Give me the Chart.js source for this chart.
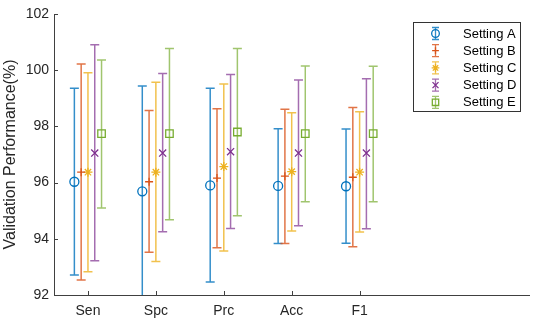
<!DOCTYPE html>
<html>
<head>
<meta charset="utf-8">
<script src="https://cdn.jsdelivr.net/npm/chart.js"></script>
<style>
  body { margin: 0; background: #fff; }
  #wrap { width: 536px; height: 322px; }
</style>
</head>
<body>
<div id="wrap"><canvas id="ErrorBarChart" width="536" height="322"></canvas></div>
<script>
// metrics on the x axis
const categories = ['Sen', 'Spc', 'Prc', 'Acc', 'F1'];
const settingNames = ['Setting A', 'Setting B', 'Setting C', 'Setting D', 'Setting E'];
const yTicks = [92, 94, 96, 98, 100, 102];

// mean values and error bar ends
const meanA = [96.03, 95.69, 95.90, 95.88, 95.87];
const lowA  = [92.71, 91.94, 92.46, 93.83, 93.84];
const highA = [99.36, 99.44, 99.36, 97.92, 97.91];

const meanB = [96.37, 96.03, 96.16, 96.23, 96.19];
const lowB  = [92.53, 93.52, 93.68, 93.83, 93.72];
const highB = [100.22, 98.57, 98.63, 98.61, 98.67];

const meanC = [96.37, 96.37, 96.57, 96.39, 96.37];
const lowC  = [92.83, 93.19, 93.57, 94.28, 94.24];
const highC = [99.91, 99.57, 99.51, 98.49, 98.52];

const meanD = [97.05, 97.05, 97.10, 97.05, 97.05];
const lowD  = [93.22, 94.25, 94.37, 94.46, 94.36];
const highD = [100.91, 99.88, 99.85, 99.65, 99.70];

const meanE = [97.74, 97.74, 97.80, 97.74, 97.74];
const lowE  = [95.10, 94.68, 94.82, 95.32, 95.32];
const highE = [100.36, 100.77, 100.77, 100.15, 100.14];

const means = [meanA, meanB, meanC, meanD, meanE];
const lows = [lowA, lowB, lowC, lowD, lowE];
const highs = [highA, highB, highC, highD, highE];

// matlab default line colors
const colors = ['#0072BD', '#D95319', '#EDB120', '#7E2F8E', '#77AC30'];
const lineColors = ['rgba(0,114,189,0.8)', 'rgba(217,83,25,0.8)', 'rgba(237,177,32,0.8)', 'rgba(126,47,142,0.7)', 'rgba(119,172,48,0.7)'];
const markers = ['circle', 'cross', 'star', 'crossRot', 'rect'];
const markerSizes = [4.5, 4, 4.5, 5, 5.3];
const offsets = [-0.2, -0.1, 0, 0.1, 0.2];

const axisColor = '#404040';
const fontName = "'Liberation Sans', Arial, sans-serif";

const datasets = settingNames.map((name, s) => {
    return {
        label: name,
        data: categories.map((c, i) => ({ x: i + 1 + offsets[s], y: means[s][i] })),
        low: lows[s],
        high: highs[s],
        lineColor: lineColors[s],
        showLine: false,
        pointStyle: markers[s],
        pointRadius: markerSizes[s],
        pointBorderColor: colors[s],
        pointBackgroundColor: 'rgba(0,0,0,0)',
        pointBorderWidth: 1.3,
    };
});

// draws the vertical error bars with caps, under the markers
const errorBars = {
    id: 'errorBars',
    beforeDatasetsDraw(chart) {
        const ctx = chart.ctx;
        const xs = chart.scales.x;
        const ys = chart.scales.y;
        const area = chart.chartArea;
        ctx.save();
        ctx.beginPath();
        ctx.rect(area.left, area.top, area.right - area.left, area.bottom - area.top);
        ctx.clip();
        chart.data.datasets.forEach(ds => {
            ctx.strokeStyle = ds.lineColor;
            ctx.lineWidth = 1.5;
            ds.data.forEach((p, i) => {
                const x = xs.getPixelForValue(p.x);
                const yLo = ys.getPixelForValue(ds.low[i]);
                const yHi = ys.getPixelForValue(ds.high[i]);
                ctx.beginPath();
                ctx.moveTo(x, yLo);
                ctx.lineTo(x, yHi);
                ctx.moveTo(x - 4.5, yLo);
                ctx.lineTo(x + 4.5, yLo);
                ctx.moveTo(x - 4.5, yHi);
                ctx.lineTo(x + 4.5, yHi);
                ctx.stroke();
            });
        });
        ctx.restore();
    }
};

function drawMarker(ctx, style, x, y, r) {
    ctx.beginPath();
    if (style === 'circle') {
        ctx.arc(x, y, r, 0, Math.PI * 2);
    } else if (style === 'rect') {
        const h = r * Math.SQRT1_2;
        ctx.rect(x - h, y - h, 2 * h, 2 * h);
    } else {
        if (style === 'cross' || style === 'star') {
            ctx.moveTo(x - r, y); ctx.lineTo(x + r, y);
            ctx.moveTo(x, y - r); ctx.lineTo(x, y + r);
        }
        if (style === 'crossRot' || style === 'star') {
            const d = r * Math.SQRT1_2;
            ctx.moveTo(x - d, y - d); ctx.lineTo(x + d, y + d);
            ctx.moveTo(x - d, y + d); ctx.lineTo(x + d, y - d);
        }
    }
    ctx.stroke();
}

// inward tick marks and the boxed legend, matlab style
const axesDecor = {
    id: 'axesDecor',
    afterDraw(chart) {
        const ctx = chart.ctx;
        const xs = chart.scales.x;
        const ys = chart.scales.y;
        const area = chart.chartArea;
        ctx.save();
        ctx.strokeStyle = axisColor;
        ctx.lineWidth = 1;
        ctx.beginPath();
        yTicks.forEach(v => {
            const y = Math.round(ys.getPixelForValue(v)) + 0.5;
            ctx.moveTo(area.left, y);
            ctx.lineTo(area.left + 4, y);
        });
        categories.forEach((c, i) => {
            const x = Math.round(xs.getPixelForValue(i + 1)) + 0.5;
            ctx.moveTo(x, area.bottom);
            ctx.lineTo(x, area.bottom - 4);
        });
        ctx.stroke();

        // legend box
        const bx = 413.5, by = 22.5, bw = 107, bh = 89;
        ctx.fillStyle = '#fff';
        ctx.fillRect(bx, by, bw, bh);
        ctx.strokeStyle = '#333';
        ctx.strokeRect(bx, by, bw, bh);
        ctx.font = '13px ' + fontName;
        ctx.textBaseline = 'middle';
        ctx.textAlign = 'left';
        settingNames.forEach((name, s) => {
            const y = 33.5 + s * 17.2;
            const x = 435.5;
            ctx.strokeStyle = lineColors[s];
            ctx.lineWidth = 1.3;
            ctx.beginPath();
            ctx.moveTo(x, y - 6); ctx.lineTo(x, y + 6);
            ctx.moveTo(x - 3.5, y - 6); ctx.lineTo(x + 3.5, y - 6);
            ctx.moveTo(x - 3.5, y + 6); ctx.lineTo(x + 3.5, y + 6);
            ctx.stroke();
            ctx.strokeStyle = colors[s];
            drawMarker(ctx, markers[s], x, y, markerSizes[s] * 0.85);
            ctx.fillStyle = '#000';
            ctx.fillText(name, 463, y + 0.5);
        });
        ctx.restore();
    }
};

const ctx = document.getElementById('ErrorBarChart').getContext('2d');
const myChart = new Chart(ctx, {
    type: 'scatter',
    data: { datasets: datasets },
    plugins: [errorBars, axesDecor],
    options: {
        responsive: false,
        animation: false,
        layout: { padding: { left: 0, top: 14, right: 5, bottom: 0 } },
        plugins: {
            legend: { display: false },
            tooltip: { enabled: false }
        },
        scales: {
            x: {
                type: 'linear',
                min: 0.5,
                max: 7.5,
                afterBuildTicks(scale) {
                    scale.ticks = categories.map((c, i) => ({ value: i + 1 }));
                },
                afterFit(scale) {
                    scale.height = 27;
                },
                ticks: {
                    callback: (v) => categories[v - 1],
                    color: '#262626',
                    font: { family: fontName, size: 14 },
                    padding: 8,
                    maxRotation: 0,
                    autoSkip: false
                },
                grid: { display: false, drawTicks: false, tickLength: 0 },
                border: { display: true, color: axisColor, width: 1 }
            },
            y: {
                min: 92,
                max: 102,
                afterBuildTicks(scale) {
                    scale.ticks = yTicks.map(v => ({ value: v }));
                },
                afterFit(scale) {
                    scale.width = 54;
                },
                ticks: {
                    color: '#262626',
                    font: { family: fontName, size: 14 },
                    padding: 5
                },
                title: {
                    display: true,
                    text: 'Validation Performance(%)',
                    color: '#262626',
                    font: { family: fontName, size: 16 },
                    padding: { top: 1, bottom: 0 }
                },
                grid: { display: false, drawTicks: false, tickLength: 0 },
                border: { display: true, color: axisColor, width: 1 }
            }
        }
    }
});
</script>
</body>
</html>
